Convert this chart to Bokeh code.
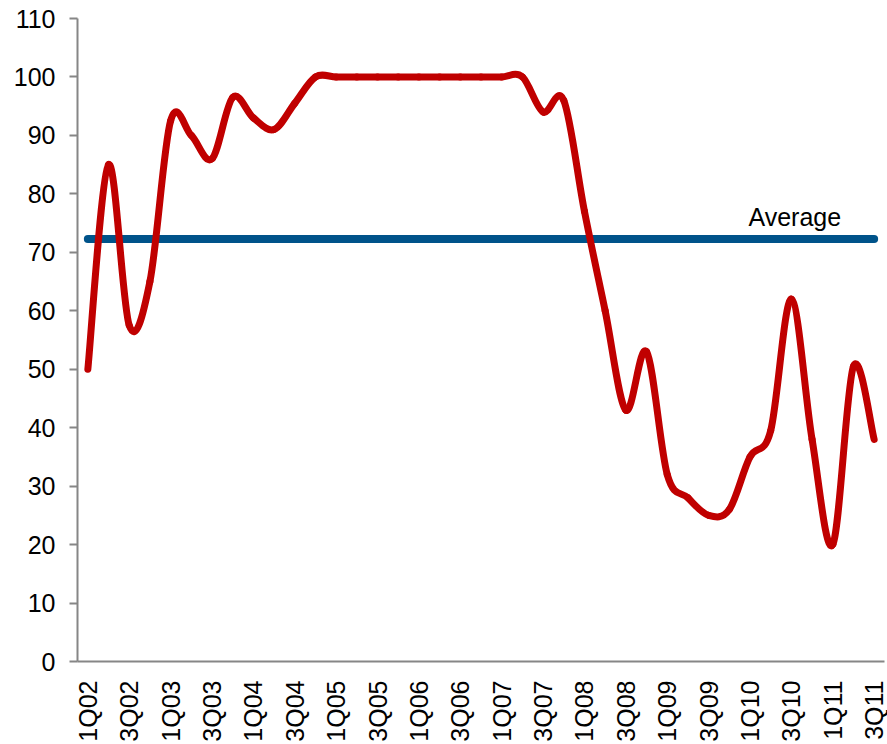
import numpy as np
from bokeh.plotting import figure
from bokeh.models import FixedTicker, Range1d, ColumnDataSource
from bokeh.embed import file_html
from bokeh.resources import INLINE
from bokeh.core.properties import value

# Quarterly index, 1Q02 .. 3Q11
quarters = [
    "1Q02", "2Q02", "3Q02", "4Q02", "1Q03", "2Q03", "3Q03", "4Q03",
    "1Q04", "2Q04", "3Q04", "4Q04", "1Q05", "2Q05", "3Q05", "4Q05",
    "1Q06", "2Q06", "3Q06", "4Q06", "1Q07", "2Q07", "3Q07", "4Q07",
    "1Q08", "2Q08", "3Q08", "4Q08", "1Q09", "2Q09", "3Q09", "4Q09",
    "1Q10", "2Q10", "3Q10", "4Q10", "1Q11", "2Q11", "3Q11",
]
index_values = [
    50, 85, 57.5, 65, 92.5, 90, 86, 96.5,
    93, 91, 95.5, 100, 100, 100, 100, 100,
    100, 100, 100, 100, 100, 100, 94, 96,
    77, 60, 43, 53, 32, 28, 25, 26,
    35, 39.5, 62, 38, 20, 50.5, 38,
]
y_ticks = [0, 10, 20, 30, 40, 50, 60, 70, 80, 90, 100, 110]
average_label = "Average"

FONT = "Liberation Sans"
RED = "#C00000"
BLUE = "#00538A"
GREY = "#868686"

x = np.arange(len(quarters), dtype=float)
y = np.array(index_values, dtype=float)
average = float(y.mean())

# Smoothed line: one cubic Bezier per segment, Catmull-Rom style control points
xp = np.concatenate([[x[0]], x, [x[-1]]])
yp = np.concatenate([[y[0]], y, [y[-1]]])
seg = ColumnDataSource(dict(
    x0=x[:-1], y0=y[:-1], x1=x[1:], y1=y[1:],
    cx0=x[:-1] + (xp[2:-1] - xp[:-3]) / 6.0,
    cy0=y[:-1] + (yp[2:-1] - yp[:-3]) / 6.0,
    cx1=x[1:] - (xp[3:] - xp[1:-2]) / 6.0,
    cy1=y[1:] - (yp[3:] - yp[1:-2]) / 6.0,
))

p = figure(
    width=887, height=744,
    output_backend="svg", toolbar_location=None,
    x_range=Range1d(-0.5, len(quarters) - 0.5),
    y_range=Range1d(0, 110),
    min_border_left=77, min_border_right=3,
    min_border_top=18, min_border_bottom=83,
)
p.outline_line_color = None
p.grid.visible = False
p.background_fill_color = "white"
p.border_fill_color = "white"

# Average line and its label
p.line([x[0], x[-1]], [average, average], line_color=BLUE, line_width=8,
       line_cap="round")
p.text([x[-1]], [average], text=[average_label], x_offset=-33, y_offset=-22,
       text_align="right", text_baseline="alphabetic",
       text_font=value(FONT), text_font_size="25px", text_color="black")

# Index series
p.bezier(x0="x0", y0="y0", x1="x1", y1="y1", cx0="cx0", cy0="cy0",
         cx1="cx1", cy1="cy1", source=seg, line_color=RED, line_width=7,
         line_cap="round", line_join="round")

# Axes
xa = p.xaxis[0]
xa.ticker = FixedTicker(ticks=list(range(0, len(quarters), 2)))
xa.major_label_overrides = {i: quarters[i] for i in range(0, len(quarters), 2)}
xa.major_label_orientation = np.pi / 2
xa.major_tick_line_color = None
xa.minor_tick_line_color = None
xa.axis_line_color = GREY
xa.axis_line_width = 2
xa.major_label_standoff = 13
xa.major_label_text_font = FONT
xa.major_label_text_font_size = "25px"
xa.major_label_text_color = "black"

ya = p.yaxis[0]
ya.ticker = FixedTicker(ticks=y_ticks)
ya.major_tick_out = 8
ya.major_tick_in = 0
ya.major_tick_line_color = GREY
ya.major_tick_line_width = 2
ya.minor_tick_line_color = None
ya.axis_line_color = GREY
ya.axis_line_width = 2
ya.major_label_standoff = 14
ya.major_label_text_font = FONT
ya.major_label_text_font_size = "25px"
ya.major_label_text_color = "black"

open("out.html", "w").write(file_html(p, INLINE))
